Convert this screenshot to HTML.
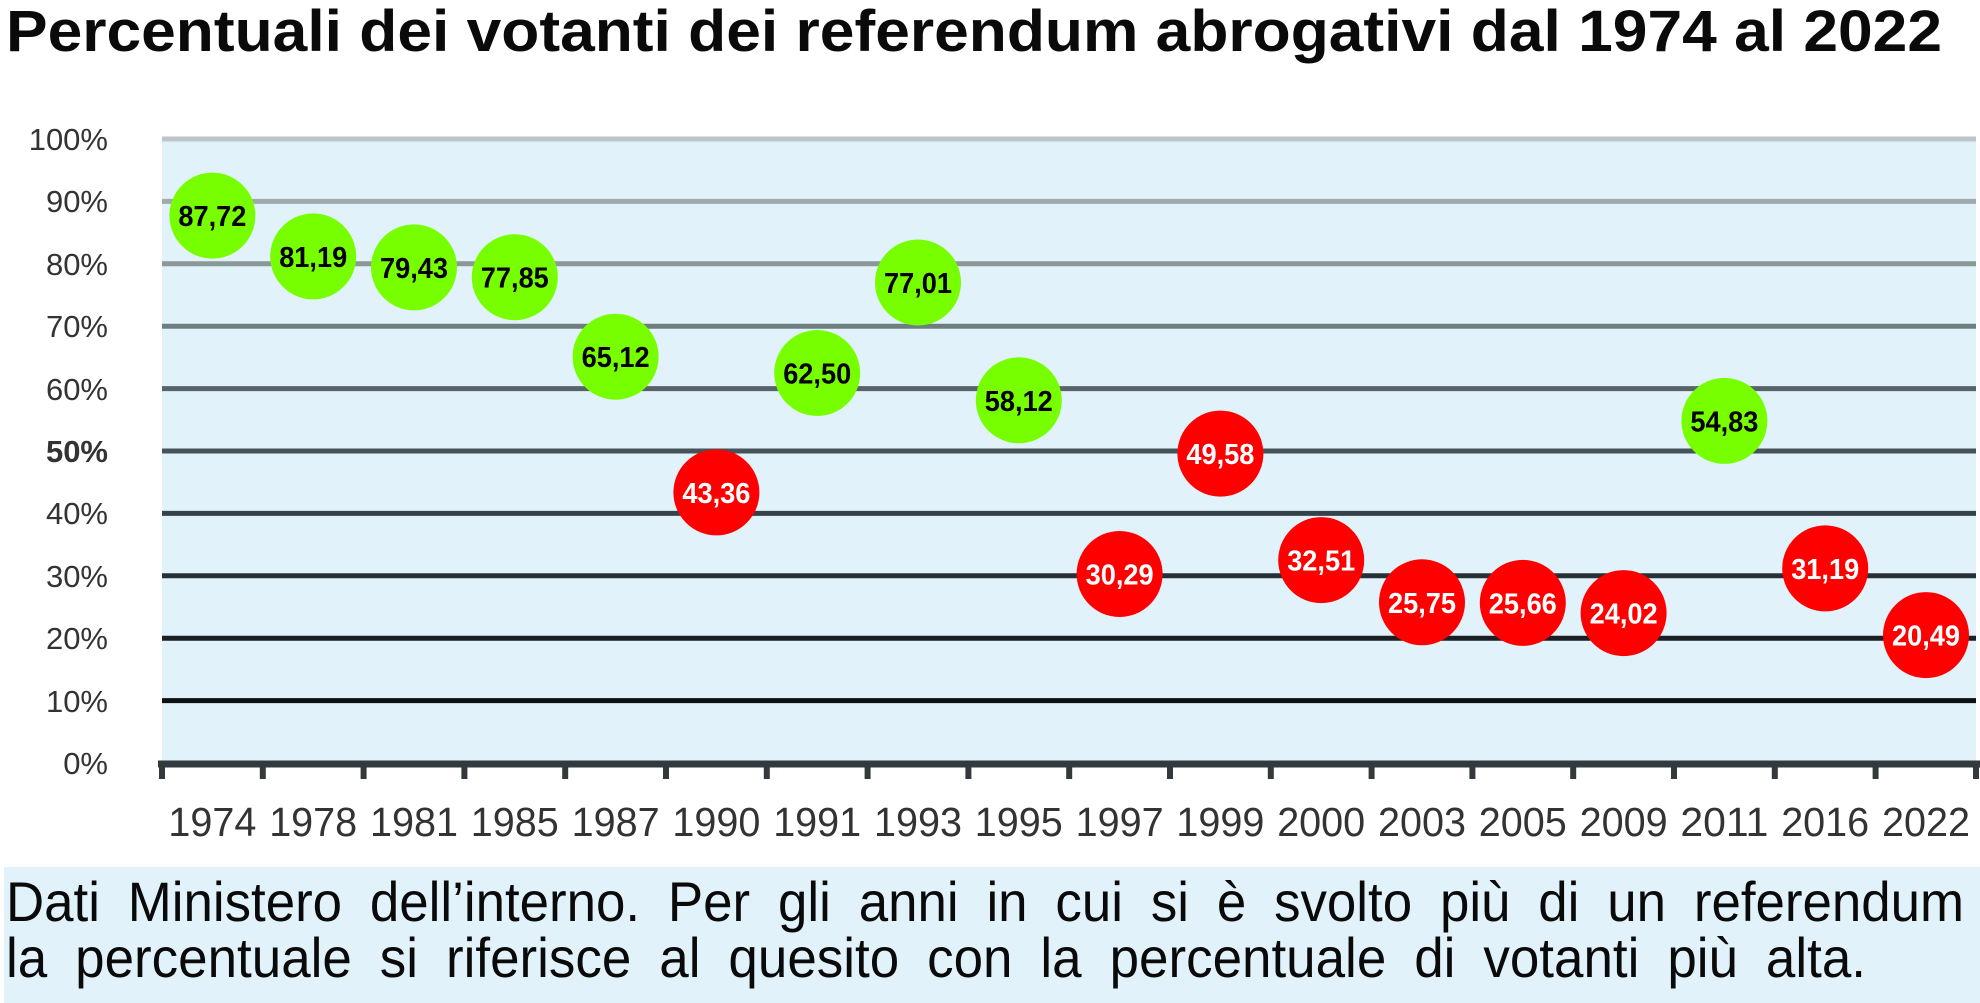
<!DOCTYPE html>
<html><head><meta charset="utf-8"><style>
html,body{margin:0;padding:0;background:#fff;}
svg{display:block;}
</style></head><body>
<svg width="1980" height="1003" viewBox="0 0 1980 1003" xmlns="http://www.w3.org/2000/svg" font-family="'Liberation Sans', sans-serif">
<rect width="1980" height="1003" fill="#fff"/>
<text x="6" y="51" font-size="58" font-weight="bold" fill="#0a0a0a" textLength="1936" lengthAdjust="spacingAndGlyphs">Percentuali dei votanti dei referendum abrogativi dal 1974 al 2022</text>
<rect x="162" y="137" width="1814" height="626" fill="#e2f2fb"/>
<g stroke-width="5">
<line x1="162" x2="1976" y1="139" y2="139" stroke="#bcc6c8"/>
<line x1="162" x2="1976" y1="201.4" y2="201.4" stroke="#9eaaac"/>
<line x1="162" x2="1976" y1="263.8" y2="263.8" stroke="#8a9898"/>
<line x1="162" x2="1976" y1="326.2" y2="326.2" stroke="#6e7e80"/>
<line x1="162" x2="1976" y1="388.6" y2="388.6" stroke="#56646a"/>
<line x1="162" x2="1976" y1="451" y2="451" stroke="#46545a"/>
<line x1="162" x2="1976" y1="513.4" y2="513.4" stroke="#36424a"/>
<line x1="162" x2="1976" y1="575.8" y2="575.8" stroke="#263036"/>
<line x1="162" x2="1976" y1="638.2" y2="638.2" stroke="#1a2024"/>
<line x1="162" x2="1976" y1="700.6" y2="700.6" stroke="#0e1012"/>
</g>
<line x1="158" x2="1980" y1="764" y2="764" stroke="#333a3e" stroke-width="7"/>
<g stroke="#333a3e" stroke-width="6">
<line x1="162" x2="162" y1="764" y2="779"/><line x1="262.8" x2="262.8" y1="764" y2="779"/><line x1="363.6" x2="363.6" y1="764" y2="779"/><line x1="464.4" x2="464.4" y1="764" y2="779"/><line x1="565.2" x2="565.2" y1="764" y2="779"/><line x1="666" x2="666" y1="764" y2="779"/><line x1="766.8" x2="766.8" y1="764" y2="779"/><line x1="867.6" x2="867.6" y1="764" y2="779"/><line x1="968.4" x2="968.4" y1="764" y2="779"/><line x1="1069.2" x2="1069.2" y1="764" y2="779"/><line x1="1170" x2="1170" y1="764" y2="779"/><line x1="1270.8" x2="1270.8" y1="764" y2="779"/><line x1="1371.6" x2="1371.6" y1="764" y2="779"/><line x1="1472.4" x2="1472.4" y1="764" y2="779"/><line x1="1573.2" x2="1573.2" y1="764" y2="779"/><line x1="1674" x2="1674" y1="764" y2="779"/><line x1="1774.8" x2="1774.8" y1="764" y2="779"/><line x1="1875.6" x2="1875.6" y1="764" y2="779"/><line x1="1976" x2="1976" y1="764" y2="779"/>
</g>
<g font-size="31" fill="#333" text-anchor="end">
<text x="108" y="150">100%</text><text x="108" y="212">90%</text><text x="108" y="275">80%</text><text x="108" y="337">70%</text><text x="108" y="400">60%</text><text x="108" y="462" font-weight="bold">50%</text><text x="108" y="524">40%</text><text x="108" y="587">30%</text><text x="108" y="649">20%</text><text x="108" y="712">10%</text><text x="108" y="774">0%</text>
</g>
<g font-size="41" fill="#333" text-anchor="middle">
<text x="212.4" y="836" textLength="88" lengthAdjust="spacingAndGlyphs">1974</text>
<text x="313.2" y="836" textLength="88" lengthAdjust="spacingAndGlyphs">1978</text>
<text x="414" y="836" textLength="88" lengthAdjust="spacingAndGlyphs">1981</text>
<text x="514.8" y="836" textLength="88" lengthAdjust="spacingAndGlyphs">1985</text>
<text x="615.6" y="836" textLength="88" lengthAdjust="spacingAndGlyphs">1987</text>
<text x="716.4" y="836" textLength="88" lengthAdjust="spacingAndGlyphs">1990</text>
<text x="817.2" y="836" textLength="88" lengthAdjust="spacingAndGlyphs">1991</text>
<text x="918" y="836" textLength="88" lengthAdjust="spacingAndGlyphs">1993</text>
<text x="1018.8" y="836" textLength="88" lengthAdjust="spacingAndGlyphs">1995</text>
<text x="1119.6" y="836" textLength="88" lengthAdjust="spacingAndGlyphs">1997</text>
<text x="1220.4" y="836" textLength="88" lengthAdjust="spacingAndGlyphs">1999</text>
<text x="1321.2" y="836" textLength="88" lengthAdjust="spacingAndGlyphs">2000</text>
<text x="1422" y="836" textLength="88" lengthAdjust="spacingAndGlyphs">2003</text>
<text x="1522.8" y="836" textLength="88" lengthAdjust="spacingAndGlyphs">2005</text>
<text x="1623.6" y="836" textLength="88" lengthAdjust="spacingAndGlyphs">2009</text>
<text x="1724.4" y="836" textLength="88" lengthAdjust="spacingAndGlyphs">2011</text>
<text x="1825.2" y="836" textLength="88" lengthAdjust="spacingAndGlyphs">2016</text>
<text x="1926" y="836" textLength="88" lengthAdjust="spacingAndGlyphs">2022</text>
</g>
<g>
<circle cx="212.4" cy="215.6" r="43" fill="#77ff00"/>
<circle cx="313.2" cy="256.4" r="43" fill="#77ff00"/>
<circle cx="414" cy="267.4" r="43" fill="#77ff00"/>
<circle cx="514.8" cy="277.2" r="43" fill="#77ff00"/>
<circle cx="615.6" cy="356.7" r="43" fill="#77ff00"/>
<circle cx="716.4" cy="492.4" r="43" fill="#ff0000"/>
<circle cx="817.2" cy="373" r="43" fill="#77ff00"/>
<circle cx="918" cy="282.5" r="43" fill="#77ff00"/>
<circle cx="1018.8" cy="400.3" r="43" fill="#77ff00"/>
<circle cx="1119.6" cy="574" r="43" fill="#ff0000"/>
<circle cx="1220.4" cy="453.6" r="43" fill="#ff0000"/>
<circle cx="1321.2" cy="560.1" r="43" fill="#ff0000"/>
<circle cx="1422" cy="602.3" r="43" fill="#ff0000"/>
<circle cx="1522.8" cy="602.9" r="43" fill="#ff0000"/>
<circle cx="1623.6" cy="613.1" r="43" fill="#ff0000"/>
<circle cx="1724.4" cy="420.9" r="43" fill="#77ff00"/>
<circle cx="1825.2" cy="568.4" r="43" fill="#ff0000"/>
<circle cx="1926" cy="635.1" r="43" fill="#ff0000"/>
</g>
<g font-size="29" font-weight="bold" text-anchor="middle">
<text x="212.4" y="226" fill="#000" textLength="68" lengthAdjust="spacingAndGlyphs">87,72</text>
<text x="313.2" y="267" fill="#000" textLength="68" lengthAdjust="spacingAndGlyphs">81,19</text>
<text x="414" y="278" fill="#000" textLength="68" lengthAdjust="spacingAndGlyphs">79,43</text>
<text x="514.8" y="287.5" fill="#000" textLength="68" lengthAdjust="spacingAndGlyphs">77,85</text>
<text x="615.6" y="367" fill="#000" textLength="68" lengthAdjust="spacingAndGlyphs">65,12</text>
<text x="716.4" y="503" fill="#fff" textLength="68" lengthAdjust="spacingAndGlyphs">43,36</text>
<text x="817.2" y="383.5" fill="#000" textLength="68" lengthAdjust="spacingAndGlyphs">62,50</text>
<text x="918" y="293" fill="#000" textLength="68" lengthAdjust="spacingAndGlyphs">77,01</text>
<text x="1018.8" y="411" fill="#000" textLength="68" lengthAdjust="spacingAndGlyphs">58,12</text>
<text x="1119.6" y="584.5" fill="#fff" textLength="68" lengthAdjust="spacingAndGlyphs">30,29</text>
<text x="1220.4" y="464" fill="#fff" textLength="68" lengthAdjust="spacingAndGlyphs">49,58</text>
<text x="1321.2" y="570.5" fill="#fff" textLength="68" lengthAdjust="spacingAndGlyphs">32,51</text>
<text x="1422" y="613" fill="#fff" textLength="68" lengthAdjust="spacingAndGlyphs">25,75</text>
<text x="1522.8" y="613.5" fill="#fff" textLength="68" lengthAdjust="spacingAndGlyphs">25,66</text>
<text x="1623.6" y="623.5" fill="#fff" textLength="68" lengthAdjust="spacingAndGlyphs">24,02</text>
<text x="1724.4" y="431.5" fill="#000" textLength="68" lengthAdjust="spacingAndGlyphs">54,83</text>
<text x="1825.2" y="579" fill="#fff" textLength="68" lengthAdjust="spacingAndGlyphs">31,19</text>
<text x="1926" y="645.5" fill="#fff" textLength="68" lengthAdjust="spacingAndGlyphs">20,49</text>
</g>
<rect x="4" y="867" width="1976" height="136" fill="#e2f2fb"/>
<text x="6" y="921" font-size="56" fill="#0a0a0a" textLength="1958" lengthAdjust="spacingAndGlyphs" word-spacing="14">Dati Ministero dell’interno. Per gli anni in cui si è svolto più di un referendum</text>
<text x="6" y="977" font-size="56" fill="#0a0a0a" textLength="1860" lengthAdjust="spacingAndGlyphs" word-spacing="14">la percentuale si riferisce al quesito con la percentuale di votanti più alta.</text>
</svg>
</body></html>
